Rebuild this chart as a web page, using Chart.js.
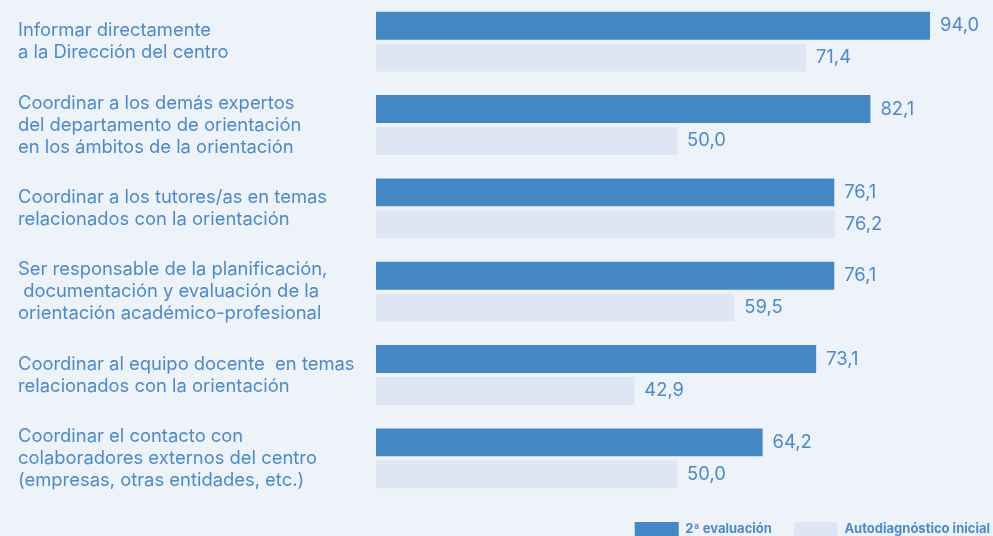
<!DOCTYPE html>
<html>
<head>
<meta charset="utf-8">
<script src="https://cdn.jsdelivr.net/npm/chart.js@4/dist/chart.umd.min.js"></script>
<style>
  html, body { margin: 0; padding: 0; background: #eef3fa; }
  #wrap { width: 993px; height: 536px; }
</style>
</head>
<body>
<div id="wrap"><canvas id="chart"></canvas></div>
<script>
  const categories = [
    ["Informar directamente", "a la Dirección del centro"],
    ["Coordinar a los demás expertos", "del departamento de orientación", "en los ámbitos de la orientación"],
    ["Coordinar a los tutores/as en temas", "relacionados con la orientación"],
    ["Ser responsable de la planificación,", " documentación y evaluación de la", "orientación académico-profesional"],
    ["Coordinar al equipo docente  en temas", "relacionados con la orientación"],
    ["Coordinar el contacto con", "colaboradores externos del centro", "(empresas, otras entidades, etc.)"]
  ];
  const seriesNames = ["2ª evaluación", "Autodiagnóstico inicial"];
  const segundaEvaluacion = [94.0, 82.1, 76.1, 76.1, 73.1, 64.2];
  const autodiagnostico = [71.4, 50.0, 76.2, 59.5, 42.9, 50.0];

  const textBlue = "#4a8ad0";
  const fontFamily = "Inter, 'Noto Sans', sans-serif";

  // etiquetas de valor al final de cada barra
  const valueLabels = {
    id: "valueLabels",
    afterDatasetsDraw(chart) {
      const ctx = chart.ctx;
      const right = chart.chartArea.right;
      ctx.save();
      ctx.font = "18.4px " + fontFamily;
      ctx.fillStyle = textBlue;
      ctx.textAlign = "left";
      ctx.textBaseline = "middle";
      chart.data.datasets.forEach((ds, i) => {
        chart.getDatasetMeta(i).data.forEach((bar, j) => {
          const x = Math.min(bar.x, right) + 10;
          ctx.fillText(ds.data[j].toFixed(1).replace(".", ","), x, bar.y);
        });
      });
      ctx.restore();
    }
  };

  new Chart(document.getElementById("chart"), {
    type: "bar",
    data: {
      labels: categories,
      datasets: [
        {
          label: seriesNames[0],
          data: segundaEvaluacion,
          backgroundColor: "#4387c5",
          categoryPercentage: 0.766,
          barPercentage: 0.875,
          clip: 0
        },
        {
          label: seriesNames[1],
          data: autodiagnostico,
          backgroundColor: "#dee6f4",
          categoryPercentage: 0.766,
          barPercentage: 0.875,
          clip: 0
        }
      ]
    },
    options: {
      indexAxis: "y",
      responsive: true,
      maintainAspectRatio: false,
      animation: false,
      layout: { padding: { left: 18, top: -5, bottom: -10, right: -19 } },
      plugins: {
        tooltip: { enabled: false },
        legend: {
          position: "bottom",
          align: "end",
          labels: {
            boxWidth: 44,
            boxHeight: 14,
            padding: 22,
            color: textBlue,
            font: { family: fontFamily, size: 13, weight: "bold" }
          }
        }
      },
      scales: {
        x: { display: false, min: 0, max: 92 },
        y: {
          grid: { display: false },
          border: { display: false },
          ticks: {
            crossAlign: "far",
            color: textBlue,
            font: { family: fontFamily, size: 18.4, lineHeight: 1.196 }
          },
          afterFit(scale) {
            scale.width = 358;
            scale.paddingTop = 0;
            scale.paddingBottom = 0;
          }
        },
        yRight: {
          type: "category",
          position: "right",
          grid: { display: false },
          border: { display: false },
          ticks: { display: false },
          afterFit(scale) { scale.width = 82; }
        }
      }
    },
    plugins: [valueLabels]
  });
</script>
</body>
</html>
